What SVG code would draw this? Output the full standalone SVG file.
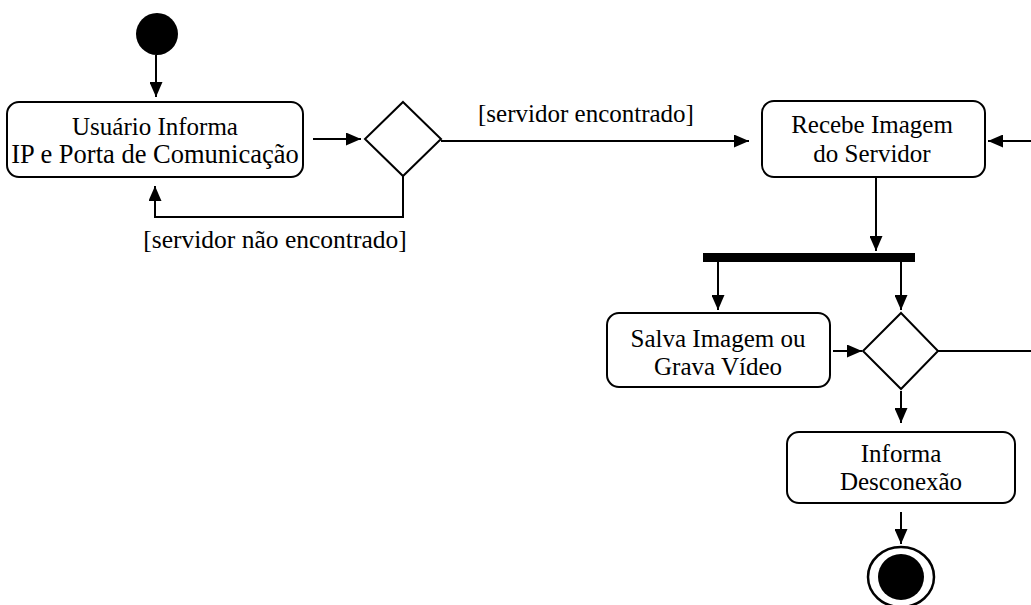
<svg xmlns="http://www.w3.org/2000/svg" width="1031" height="605" viewBox="0 0 1031 605">
<style>
.box{fill:#fff;stroke:#000;stroke-width:2}
.dia{fill:#fff;stroke:#000;stroke-width:2}
.t{font-family:"Liberation Serif","Times New Roman",serif;font-size:25px;fill:#000;text-anchor:middle}
.c{fill:none;stroke:#000;stroke-width:2}
</style>
<defs>
<marker id="ah" markerUnits="userSpaceOnUse" markerWidth="15" markerHeight="13" refX="15" refY="6.5" orient="auto">
<path d="M0,0 L15,6.5 L0,13 z" fill="#000"/>
</marker>
</defs>
<rect width="1031" height="605" fill="#fff"/>
<g id="start"><circle cx="157" cy="34" r="21" fill="#000"/></g>
<g id="usuario"><rect class="box" x="7" y="102" width="296" height="75" rx="12"/>
<text class="t" x="155" y="135">Usuário Informa</text>
<text class="t" x="155" y="163" style="font-size:26.5px">IP e Porta de Comunicação</text></g>
<g id="decisao1"><polygon class="dia" points="403,102 441,139 403,176 365,139"/></g>
<g id="recebe"><rect class="box" x="762" y="101" width="223" height="76" rx="12"/>
<text class="t" x="872" y="133">Recebe Imagem</text>
<text class="t" x="872" y="162">do Servidor</text></g>
<g id="fork"><rect x="703" y="253" width="212" height="9" fill="#000"/></g>
<g id="salva"><rect class="box" x="607" y="313" width="223" height="74" rx="12"/>
<text class="t" x="718" y="347">Salva Imagem ou</text>
<text class="t" x="718" y="375">Grava Vídeo</text></g>
<g id="decisao2"><polygon class="dia" points="901,313 938,351 901,389 863,351"/></g>
<g id="informa"><rect class="box" x="787" y="432" width="228" height="71" rx="12"/>
<text class="t" x="901" y="462">Informa</text>
<text class="t" x="901" y="490">Desconexão</text></g>
<g id="end"><ellipse cx="901" cy="577" rx="33" ry="30" fill="#fff" stroke="#000" stroke-width="2.5"/>
<circle cx="901" cy="577" r="23" fill="#000"/></g>
<g id="connectors">
<path class="c" d="M156,55 L156,97" marker-end="url(#ah)"/>
<path class="c" d="M313,139 L361,139" marker-end="url(#ah)"/>
<path class="c" d="M441,141 L749,141" marker-end="url(#ah)"/>
<path class="c" d="M403,176 L403,217 L155,217 L155,186" marker-end="url(#ah)"/>
<path class="c" d="M876,177 L876,251" marker-end="url(#ah)"/>
<path class="c" d="M718,262 L718,310" marker-end="url(#ah)"/>
<path class="c" d="M901,262 L901,310" marker-end="url(#ah)"/>
<path class="c" d="M833,351 L862,351" marker-end="url(#ah)"/>
<path class="c" d="M938,351 L1031,351"/>
<path class="c" d="M1031,141 L988,141" marker-end="url(#ah)"/>
<path class="c" d="M901,391 L901,423" marker-end="url(#ah)"/>
<path class="c" d="M901,512 L901,544" marker-end="url(#ah)"/>
<text class="t" x="586" y="122">[servidor encontrado]</text>
<text class="t" x="275" y="248" style="font-size:25.5px">[servidor não encontrado]</text>
</g>
</svg>
